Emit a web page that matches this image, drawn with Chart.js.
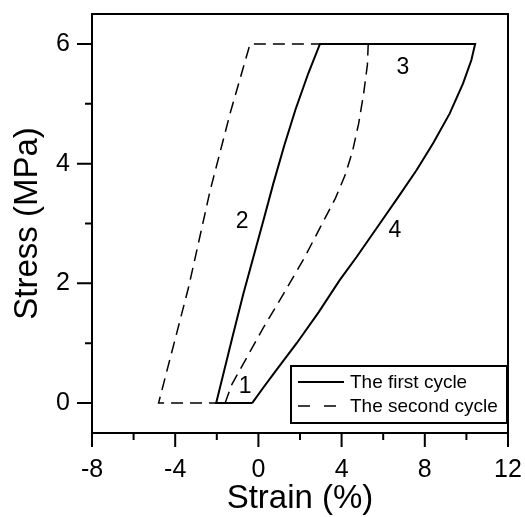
<!DOCTYPE html>
<html>
<head>
<meta charset="utf-8">
<script src="https://cdn.jsdelivr.net/npm/chart.js@4.4.1/dist/chart.umd.min.js"></script>
<style>
  html, body { margin: 0; padding: 0; background: #fff; }
</style>
</head>
<body>
<canvas id="loop-chart" width="525" height="517"></canvas>
<script>
// first cycle: loading (4) -> hold at 6 MPa (3) -> unloading (2) -> back along zero stress (1)
const firstStrain = [-0.3, 0.24, 0.88, 1.84, 2.9, 3.9, 4.72, 5.84, 6.72, 7.6, 8.4, 9.2, 9.84, 10.24, 10.42,
                     2.96, 2.4, 1.78, 1.24, 0.72, 0.24, -0.24, -0.72, -1.25, -2.03, -0.3]
const firstStress = [0, 0.26, 0.56, 1.0, 1.52, 2.05, 2.44, 3.0, 3.44, 3.89, 4.34, 4.84, 5.34, 5.73, 6.0,
                     6.0, 5.51, 4.9, 4.3, 3.67, 3.05, 2.44, 1.83, 1.1, 0, 0]

// second cycle
const secondStrain = [-1.6, -1.28, -0.56, 0.24, 1.2, 2.2, 3.1, 3.7, 4.16, 4.52, 4.82, 5.06, 5.24, 5.28,
                      -0.4, -1.36, -2.32, -3.36, -4.8, -1.6]
const secondStress = [0, 0.31, 0.76, 1.26, 1.82, 2.42, 3.02, 3.42, 3.8, 4.2, 4.67, 5.17, 5.65, 6.0,
                      6.0, 4.84, 3.55, 1.93, 0, 0]

const seriesNames = ['The first cycle', 'The second cycle']

// axis ticks
const xTickLabels = [-8, -4, 0, 4, 8, 12]
const xTickMarks = [-8, -6, -4, -2, 0, 2, 4, 6, 8, 10, 12]
const yTickLabels = [0, 2, 4, 6]
const yTickMarks = [0, 1, 2, 3, 4, 5, 6]

// numbered branches of the loop
const branchNames = ['1', '2', '3', '4']
const branchStrain = [-0.64, -0.78, 6.95, 6.56]
const branchStress = [0.28, 3.03, 5.61, 2.88]

const FONT = "'Liberation Sans', Arial, sans-serif"

const toPoints = (xs, ys) => xs.map((v, i) => ({ x: v, y: ys[i] }))

// fixed axis sizes, no extra room reserved for edge labels
const fixSize = (w, h) => s => {
    if (w) s.width = w
    if (h) s.height = h
    s.paddingTop = s.paddingBottom = s.paddingLeft = s.paddingRight = 0
}

// box, tick marks, branch numbers and legend
const frameAndNotes = {
    id: 'frameAndNotes',
    afterDatasetsDraw(chart) {
        const { ctx, chartArea: a, scales: { x, y } } = chart
        ctx.save()
        ctx.strokeStyle = '#000'
        ctx.fillStyle = '#000'
        ctx.lineWidth = 2
        ctx.strokeRect(a.left, a.top, a.right - a.left, a.bottom - a.top)

        ctx.beginPath()
        xTickMarks.forEach(v => {
            const px = x.getPixelForValue(v)
            const len = xTickLabels.includes(v) ? 14 : 7
            ctx.moveTo(px, a.bottom)
            ctx.lineTo(px, a.bottom + len)
        })
        yTickMarks.forEach(v => {
            const py = y.getPixelForValue(v)
            const len = yTickLabels.includes(v) ? 15 : 7
            ctx.moveTo(a.left, py)
            ctx.lineTo(a.left - len, py)
        })
        ctx.stroke()

        ctx.font = '23px ' + FONT
        ctx.textAlign = 'center'
        ctx.textBaseline = 'middle'
        branchNames.forEach((t, i) => {
            ctx.fillText(t, x.getPixelForValue(branchStrain[i]), y.getPixelForValue(branchStress[i]))
        })

        // legend, lower right corner
        const bw = 216, bh = 57
        const bx = a.right - 1 - bw, by = a.bottom - 10 - bh
        ctx.fillStyle = '#fff'
        ctx.fillRect(bx, by, bw, bh)
        ctx.fillStyle = '#000'
        ctx.strokeRect(bx, by, bw, bh)
        ctx.font = '19px ' + FONT
        ctx.textAlign = 'left'
        chart.data.datasets.forEach((ds, i) => {
            const ly = by + 16 + i * 24
            ctx.lineWidth = ds.borderWidth
            ctx.setLineDash(ds.legendDash || [])
            ctx.beginPath()
            ctx.moveTo(bx + 7, ly)
            ctx.lineTo(bx + 53, ly)
            ctx.stroke()
            ctx.setLineDash([])
            ctx.fillText(ds.label, bx + 59, ly + 1)
        })
        ctx.restore()
    }
}

const loopConfig = {
    type: 'scatter',
    data: {
        datasets: [{
            label: seriesNames[0],
            data: toPoints(firstStrain, firstStress),
            showLine: true,
            borderColor: '#000',
            borderWidth: 2,
            pointRadius: 0,
            tension: 0
        }, {
            label: seriesNames[1],
            data: toPoints(secondStrain, secondStress),
            showLine: true,
            borderColor: '#000',
            borderWidth: 1.5,
            borderDash: [12, 7],
            legendDash: [12, 14],
            pointRadius: 0,
            tension: 0
        }]
    },
    options: {
        responsive: false,
        animation: false,
        layout: { padding: { top: 14, right: 17, left: 0, bottom: 0 } },
        plugins: {
            legend: { display: false },
            tooltip: { enabled: false }
        },
        scales: {
            x: {
                type: 'linear',
                min: -8,
                max: 12,
                afterBuildTicks: s => { s.ticks = xTickLabels.map(v => ({ value: v })) },
                afterFit: fixSize(0, 84),
                grid: { display: false, drawTicks: false },
                border: { display: false },
                ticks: { padding: 22, color: '#000', font: { family: FONT, size: 25 }, maxRotation: 0 },
                title: {
                    display: true,
                    text: 'Strain (%)',
                    color: '#000',
                    font: { family: FONT, size: 33, lineHeight: 1 },
                    padding: { top: 0, bottom: 2 }
                }
            },
            y: {
                type: 'linear',
                min: -0.5,
                max: 6.5,
                afterBuildTicks: s => { s.ticks = yTickLabels.map(v => ({ value: v })) },
                afterFit: fixSize(92, 0),
                grid: { display: false, drawTicks: false },
                border: { display: false },
                ticks: { padding: 22, color: '#000', font: { family: FONT, size: 25 } },
                title: {
                    display: true,
                    text: 'Stress (MPa)',
                    color: '#000',
                    font: { family: FONT, size: 33, lineHeight: 1 },
                    padding: { top: 11, bottom: 0 }
                }
            }
        }
    },
    plugins: [frameAndNotes]
}

new Chart(document.querySelector('#loop-chart'), loopConfig)
</script>
</body>
</html>
